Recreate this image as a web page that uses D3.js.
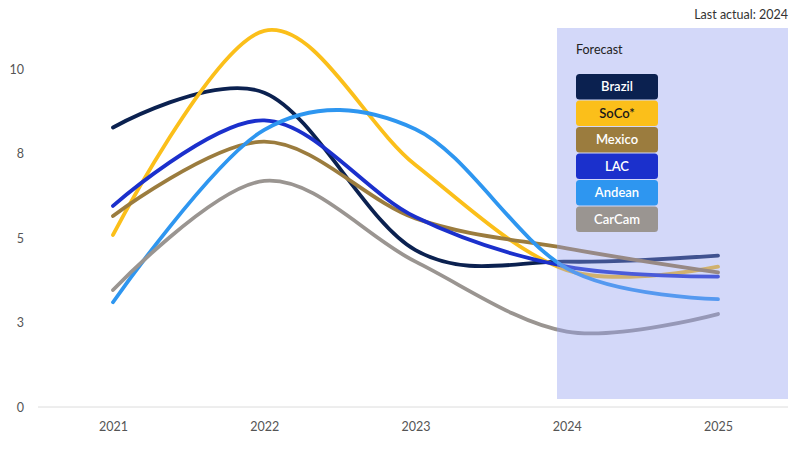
<!DOCTYPE html>
<html>
<head>
<meta charset="utf-8">
<script src="https://cdn.jsdelivr.net/npm/d3@7"></script>
<style>
  html, body { margin: 0; padding: 0; background: #fff; }
  svg { display: block; font-family: Lato, "Open Sans", sans-serif; }
</style>
</head>
<body>
<svg id="chart" width="800" height="450"></svg>
<script>
// ---- data ----
const years = [2021, 2022, 2023, 2024, 2025];
const seriesNames = ["Brazil", "SoCo*", "Mexico", "LAC", "Andean", "CarCam"];
const brazil = [8.27, 9.30, 4.64, 4.30, 4.48];
const soco   = [5.09, 11.13, 7.16, 4.05, 4.15];
const mexico = [5.65, 7.85, 5.58, 4.69, 3.98];
const lac    = [5.95, 8.48, 5.62, 4.15, 3.86];
const andean = [3.10, 8.20, 8.22, 4.10, 3.19];
const carcam = [3.46, 6.69, 4.30, 2.23, 2.75];
const yTickValues = [0, 2.5, 5, 7.5, 10];
const yTickLabels = ["0", "3", "5", "8", "10"];
const colors = ["#0b2150", "#fbbf1a", "#9b7c3e", "#1b30cc", "#2e96f0", "#9a9591"];
const legendTextColors = ["#fff", "#1a1a1a", "#fff", "#fff", "#fff", "#fff"];

const seriesValues = [brazil, soco, mexico, lac, andean, carcam];
const series = seriesNames.map((n, i) => ({ name: n, values: seriesValues[i], color: colors[i] }));

const svg = d3.select("#chart");
const x = d3.scaleLinear().domain([2021, 2025]).range([113, 718]);
const y = d3.scaleLinear().domain([0, 10]).range([407, 69]);

// baseline
svg.append("line").attr("x1", 38).attr("x2", 788).attr("y1", y(0)).attr("y2", y(0))
  .attr("stroke", "#dcdcdc").attr("stroke-width", 1);

// y axis labels
const yAxis = d3.axisLeft(y).tickValues(yTickValues)
  .tickFormat((d, i) => yTickLabels[i]).tickSize(0).tickPadding(0);
const yg = svg.append("g").attr("transform", "translate(24,0)").call(yAxis);
yg.select(".domain").remove();
yg.selectAll("text").attr("font-size", 12.5).attr("fill", "#555").attr("font-family", "Lato, sans-serif");

// x axis labels
const xAxis = d3.axisBottom(x).tickValues(years).tickFormat(d3.format("d")).tickSize(0).tickPadding(0);
const xg = svg.append("g").attr("transform", "translate(0,422)").call(xAxis);
xg.select(".domain").remove();
xg.selectAll("text").attr("font-size", 12.5).attr("fill", "#555").attr("font-family", "Lato, sans-serif");

// lines
const line = d3.line().x((d, i) => x(years[i])).y(d => y(d)).curve(d3.curveCardinal.tension(0));
svg.append("g").selectAll("path").data(series).join("path")
  .attr("d", d => line(d.values))
  .attr("fill", "none")
  .attr("stroke", d => d.color)
  .attr("stroke-width", 3.8)
  .attr("stroke-linecap", "round");

// forecast overlay
svg.append("rect").attr("x", 557).attr("y", 28).attr("width", 231).attr("height", 371)
  .attr("fill", "#919ef0").attr("opacity", 0.4);

svg.append("text").attr("x", 576).attr("y", 54).text("Forecast")
  .attr("font-size", 12.5).attr("fill", "#222");

// legend
const lg = svg.append("g").selectAll("g").data(series).join("g")
  .attr("transform", (d, i) => `translate(576,${74 + i * 26.5})`);
lg.append("rect").attr("width", 82).attr("height", 25.5).attr("rx", 3.5)
  .attr("fill", d => d.color);
lg.append("text").attr("x", 41).attr("y", 17.3).attr("text-anchor", "middle")
  .attr("font-size", 13).attr("font-weight", 600)
  .attr("fill", (d, i) => legendTextColors[i]).text(d => d.name);

// note
svg.append("text").attr("x", 788).attr("y", 19).attr("text-anchor", "end")
  .attr("font-size", 12.5).attr("fill", "#333").text("Last actual: 2024");
</script>
</body>
</html>
